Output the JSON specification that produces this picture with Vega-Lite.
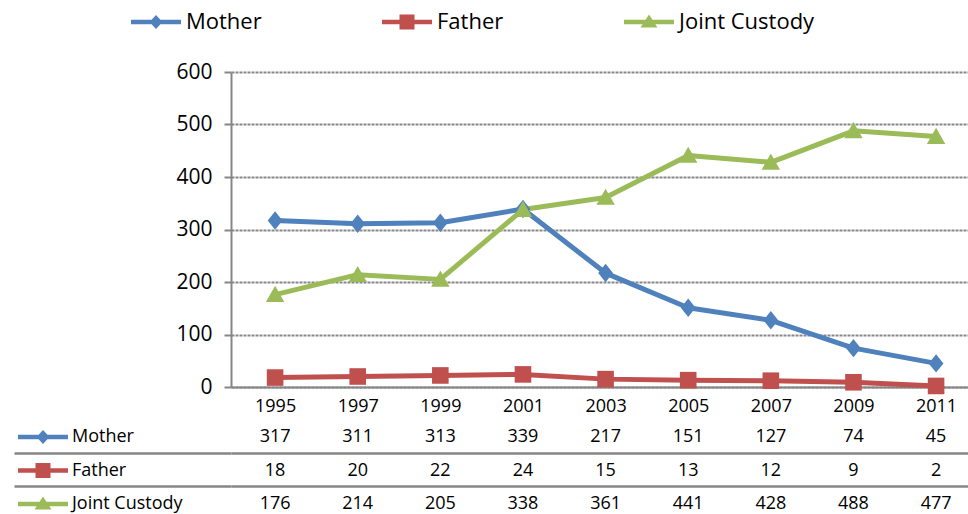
{
  "$schema": "https://vega.github.io/schema/vega-lite/v6.json",
  "padding": {"left": 12, "top": 11, "right": 0, "bottom": 0},
  "background": "white",
  "config": {"font": "Open Sans", "view": {"stroke": null}},
  "data": {"values": [
    {"year": "1995", "series": "Mother", "value": 317},
    {"year": "1997", "series": "Mother", "value": 311},
    {"year": "1999", "series": "Mother", "value": 313},
    {"year": "2001", "series": "Mother", "value": 339},
    {"year": "2003", "series": "Mother", "value": 217},
    {"year": "2005", "series": "Mother", "value": 151},
    {"year": "2007", "series": "Mother", "value": 127},
    {"year": "2009", "series": "Mother", "value": 74},
    {"year": "2011", "series": "Mother", "value": 45},
    {"year": "1995", "series": "Father", "value": 18},
    {"year": "1997", "series": "Father", "value": 20},
    {"year": "1999", "series": "Father", "value": 22},
    {"year": "2001", "series": "Father", "value": 24},
    {"year": "2003", "series": "Father", "value": 15},
    {"year": "2005", "series": "Father", "value": 13},
    {"year": "2007", "series": "Father", "value": 12},
    {"year": "2009", "series": "Father", "value": 9},
    {"year": "2011", "series": "Father", "value": 2},
    {"year": "1995", "series": "Joint Custody", "value": 176},
    {"year": "1997", "series": "Joint Custody", "value": 214},
    {"year": "1999", "series": "Joint Custody", "value": 205},
    {"year": "2001", "series": "Joint Custody", "value": 338},
    {"year": "2003", "series": "Joint Custody", "value": 361},
    {"year": "2005", "series": "Joint Custody", "value": 441},
    {"year": "2007", "series": "Joint Custody", "value": 428},
    {"year": "2009", "series": "Joint Custody", "value": 488},
    {"year": "2011", "series": "Joint Custody", "value": 477}
  ]},
  "spacing": 4,
  "resolve": {"scale": {"color": "independent"}, "legend": {"color": "independent"}},
  "vconcat": [
    {
      "width": 737,
      "height": 315,
      "encoding": {
        "x": {"field": "year", "type": "ordinal",
          "scale": {"type": "point", "padding": 0.46, "align": 0.58},
          "axis": {"title": null, "labelAngle": 0, "ticks": false, "labelPadding": 10, "labelFontSize": 18, "labelColor": "black", "domainColor": "#868686", "domainWidth": 2, "grid": false}},
        "y": {"field": "value", "type": "quantitative",
          "scale": {"domain": [0, 600], "nice": false},
          "axis": {"title": null, "values": [0, 100, 200, 300, 400, 500, 600], "tickSize": 7, "tickColor": "#868686", "tickWidth": 2, "labelPadding": 12, "labelFontSize": 21, "labelColor": "black", "domainColor": "#868686", "domainWidth": 2, "gridColor": "#878787", "gridWidth": 2, "gridDash": [3, 1]}},
        "color": {"field": "series", "type": "nominal",
          "scale": {"domain": ["Mother", "Father", "Joint Custody"], "range": ["#4F81BD", "#C0504D", "#9BBB59"]},
          "legend": {"orient": "none", "legendX": -101, "legendY": -61, "direction": "horizontal", "title": null,
            "symbolType": {"expr": "datum.value == 'Mother' ? 'M-1,-0.22H4V0.22H-1Z M0.85,0L1.5,-0.7L2.15,0L1.5,0.7Z' : datum.value == 'Father' ? 'M-1,-0.22H4V0.22H-1Z M0.75,-0.75H2.25V0.75H0.75Z' : 'M-1,-0.22H4V0.22H-1Z M1.5,-0.75L2.35,0.55L0.65,0.55Z'"},
            "symbolSize": 400, "symbolStrokeWidth": 0, "symbolOpacity": 1, "symbolFillColor": null,
            "labelFontSize": 22, "labelOffset": 34, "columnPadding": 119, "labelColor": "black"}}
      },
      "layer": [
        {
          "mark": {"type": "point", "filled": true, "opacity": 1, "size": 324, "strokeWidth": 0},
          "encoding": {
            "shape": {"field": "series", "type": "nominal",
              "scale": {"domain": ["Mother", "Father", "Joint Custody"], "range": ["M-0.8,0L0,-1L0.8,0L0,1Z", "M-0.9,-0.9H0.9V0.9H-0.9Z", "M0,-0.95L1,0.8L-1,0.8Z"]},
              "legend": null},
            "opacity": {"value": 0}
          }
        },
        {
          "mark": {"type": "line", "strokeWidth": 5, "strokeCap": "round", "strokeJoin": "round"}
        },
        {
          "mark": {"type": "point", "filled": true, "opacity": 1, "size": 340, "strokeWidth": 0},
          "encoding": {
            "shape": {"field": "series", "type": "nominal",
              "scale": {"domain": ["Mother", "Father", "Joint Custody"], "range": ["M-0.8,0L0,-1L0.8,0L0,1Z", "M-0.9,-0.9H0.9V0.9H-0.9Z", "M0,-0.95L1,0.8L-1,0.8Z"]},
              "legend": null}
          }
        }
      ]
    },
    {
      "width": 737,
      "height": 94,
      "encoding": {
        "x": {"field": "year", "type": "ordinal",
          "scale": {"type": "point", "padding": 0.46, "align": 0.58},
          "axis": null},
        "y": {"field": "series", "type": "nominal",
          "scale": {"type": "point", "domain": ["Mother", "Father", "Joint Custody"], "padding": 0.395, "align": 0.677},
          "axis": {"title": null, "labels": false, "values": ["Mother", "Father"], "tickOffset": 15.5, "tickSize": 217, "tickColor": "#868686", "tickWidth": 2.5, "grid": true, "gridColor": "#868686", "gridWidth": 2.5, "domain": false}}
      },
      "layer": [
        {
          "mark": {"type": "text", "fontSize": 18, "color": "black"},
          "encoding": {"text": {"field": "value", "type": "quantitative"}}
        },
        {
          "mark": {"type": "point", "filled": true, "opacity": 0},
          "encoding": {
            "color": {"field": "series", "type": "nominal",
              "scale": {"domain": ["Mother", "Father", "Joint Custody"], "range": ["#4F81BD", "#C0504D", "#9BBB59"]},
              "legend": {"orient": "none", "legendX": -213, "legendY": 8, "direction": "vertical", "title": null,
                "symbolType": {"expr": "datum.value == 'Mother' ? 'M-1,-0.22H4V0.22H-1Z M0.85,0L1.5,-0.7L2.15,0L1.5,0.7Z' : datum.value == 'Father' ? 'M-1,-0.22H4V0.22H-1Z M0.75,-0.75H2.25V0.75H0.75Z' : 'M-1,-0.22H4V0.22H-1Z M1.5,-0.75L2.35,0.55L0.65,0.55Z'"},
                "symbolSize": 400, "symbolStrokeWidth": 0, "symbolOpacity": 1,
                "labelFontSize": 18, "labelOffset": 34, "rowPadding": 14.5, "labelColor": "black"}}
          }
        }
      ]
    }
  ]
}
